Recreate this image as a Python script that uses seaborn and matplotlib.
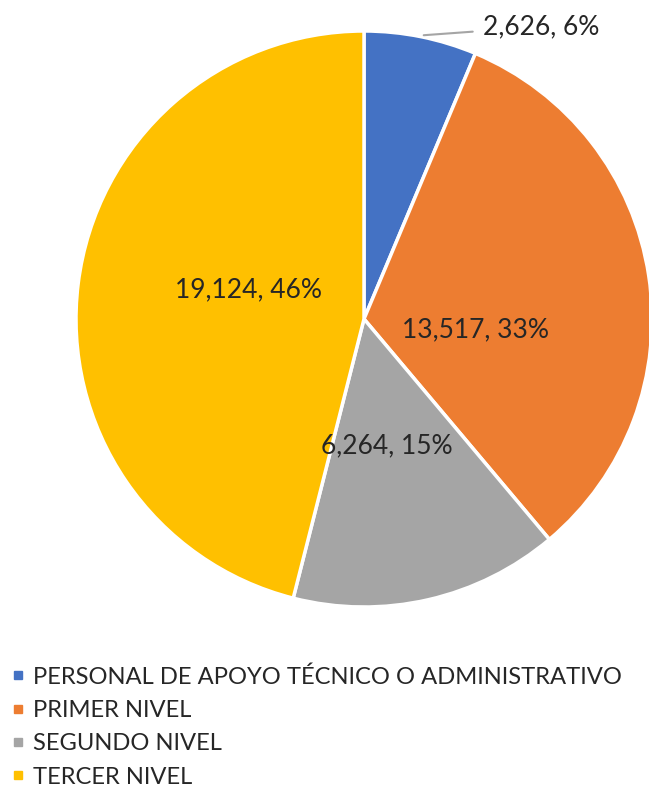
import numpy as np
import matplotlib
matplotlib.use("Agg")
import matplotlib.pyplot as plt
from matplotlib.lines import Line2D
import seaborn as sns

categorias = ["PERSONAL DE APOYO TÉCNICO O ADMINISTRATIVO", "PRIMER NIVEL",
              "SEGUNDO NIVEL", "TERCER NIVEL"]
valores = [2626, 13517, 6264, 19124]
colores = ["#4472C4", "#ED7D31", "#A5A5A5", "#FFC000"]

sns.set_theme(style="white")
plt.rcParams["font.family"] = ["Lato", "DejaVu Sans"]
texto = "#262626"

fig = plt.figure(figsize=(6.49, 7.95), dpi=100)
# centro del pastel ~ (364, 319) px, radio ~288 px
W, H = 649, 795
cx, cy, r = 364, 319, 288
ax = fig.add_axes([(cx - r) / W, (H - cy - r) / H, 2 * r / W, 2 * r / H])

wedges, _ = ax.pie(valores, colors=sns.color_palette(colores), startangle=90,
                   counterclock=False, radius=1,
                   wedgeprops=dict(edgecolor="white", linewidth=2.5))
ax.set_xlim(-1, 1)
ax.set_ylim(-1, 1)
ax.set_aspect("equal")
ax.axis("off")

total = sum(valores)
etiquetas = [f"{v:,}, {round(100 * v / total)}%" for v in valores]
dist = [None, 0.39, 0.448, 0.415]
ajuste = [0, -14.3, -2.6, -7]  # grados, como lo coloca Excel
for i, w in enumerate(wedges):
    ang = np.deg2rad((w.theta1 + w.theta2) / 2)
    if i == 0:
        xa, ya = 1.0 * np.cos(ang), 1.0 * np.sin(ang)
        ax.annotate(etiquetas[i], xy=(xa + 0.01, ya + 0.005), xytext=(0.413, 1.015),
                    fontsize=19, color=texto, va="center", ha="left",
                    annotation_clip=False,
                    arrowprops=dict(arrowstyle="-", color="#A5A5A5", lw=1.5,
                                    shrinkA=5, shrinkB=0))
    else:
        a = ang + np.deg2rad(ajuste[i])
        ax.text(dist[i] * np.cos(a), dist[i] * np.sin(a), etiquetas[i],
                fontsize=19, color=texto, ha="center", va="center")

manijas = [Line2D([], [], marker="s", linestyle="none", markersize=6,
                  markerfacecolor=c, markeredgecolor=c) for c in colores]
fig.legend(manijas, categorias, loc="upper left", bbox_to_anchor=(0.0, 1 - 659 / H),
           frameon=False, fontsize=17.1, labelcolor=texto, handletextpad=0.2,
           labelspacing=0.52, borderaxespad=0, borderpad=0.3, handlelength=0.9)

fig.savefig("out.png", dpi=100)
